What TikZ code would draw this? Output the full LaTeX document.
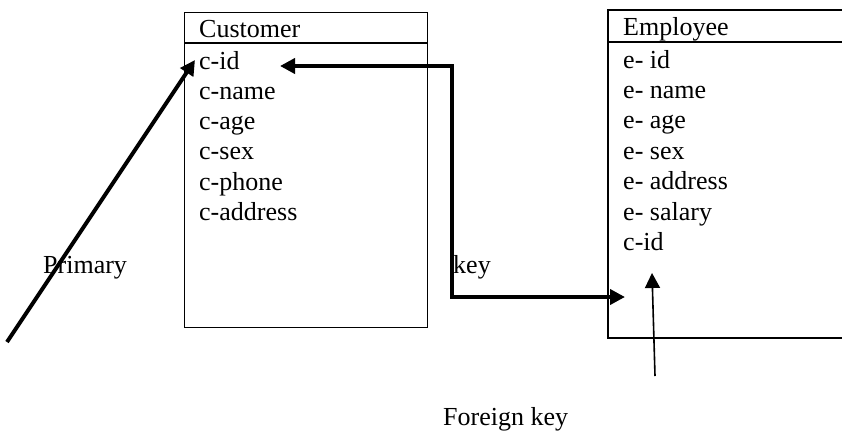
\documentclass[tikz,border=0pt]{standalone}
\usepackage{fontspec}
\setmainfont{Liberation Serif}
\usetikzlibrary{arrows.meta,positioning}

\begin{document}
\begin{tikzpicture}[x=1pt, y=1pt, font=\fontsize{26}{30}\selectfont,
  box/.style={draw, line width=1.2pt},
  field/.style={inner sep=0pt, anchor=base west},
  boldarrow/.style={line width=4pt, -{Triangle[length=15pt,width=15pt]}},
  twoarrow/.style={line width=4pt, {Triangle[length=15pt,width=15pt]}-{Triangle[length=15pt,width=15pt]}},
  thinarrow/.style={line width=1.6pt, -{Triangle[length=15pt,width=15pt]}}]
  \useasboundingbox (0,0) rectangle (842,-434);
  % Customer table
  \node[box, inner sep=0pt, minimum width=243pt, minimum height=315pt, anchor=north west] (cust) at (184,-12) {};
  \draw[box] (cust.west |- 0,-43) -- (cust.east |- 0,-43);
  \node[field] (custname) at (199,-37) {Customer};
  \node[field] (cid) at (199,-69) {c-id};
  \node[below=30.3pt of cid.base west, field] (cname) {c-name};
  \node[below=30.3pt of cname.base west, field] (cage) {c-age};
  \node[below=30.3pt of cage.base west, field] (csex) {c-sex};
  \node[below=30.3pt of csex.base west, field] (cphone) {c-phone};
  \node[below=30.3pt of cphone.base west, field] (caddr) {c-address};
  % Employee table (runs past the right edge)
  \draw[box] (842,-10) -- (608,-10) -- (608,-338) -- (842,-338);
  \draw[box] (608,-42) -- (842,-42);
  \node[field] (empname) at (623,-35) {Employee};
  \node[field] (eid) at (623,-68) {e- id};
  \node[below=30.4pt of eid.base west, field] (ename) {e- name};
  \node[below=30.4pt of ename.base west, field] (eage) {e- age};
  \node[below=30.4pt of eage.base west, field] (esex) {e- sex};
  \node[below=30.4pt of esex.base west, field] (eaddr) {e- address};
  \node[below=30.4pt of eaddr.base west, field] (esal) {e- salary};
  \node[below=30.4pt of esal.base west, field] (ecid) {c-id};
  % labels
  \node[field] (primary) at (43,-273) {Primary};
  \node[field] (keylbl) at (453,-273) {key};
  \node[field] (foreign) at (443,-425) {Foreign key};
  % arrows
  \coordinate (pstart) at (7,-342);
  \coordinate (ptip) at (195,-60);
  \coordinate (ktip) at (280,-66);
  \coordinate (kbend) at (452,-66);
  \coordinate (kin) at (625,-297);
  \coordinate (fstart) at (655,-376);
  \coordinate (ftip) at (652,-273);
  \draw[boldarrow] (pstart) -- (ptip);
  \draw[twoarrow] (ktip) -- (kbend) |- (kin);
  \draw[thinarrow] (fstart) -- (ftip);
\end{tikzpicture}
\end{document}
